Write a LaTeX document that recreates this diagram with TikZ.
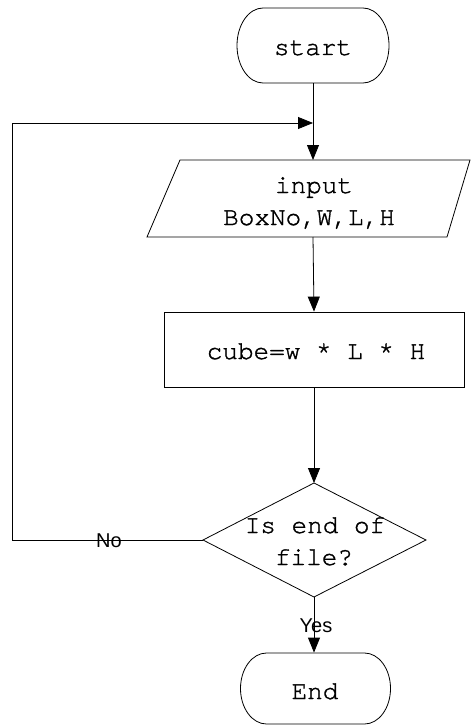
\documentclass[tikz,border=0pt]{standalone}
\usepackage{fontspec}
\setmonofont[Ligatures=NoCommon, FakeBold=1.2]{TeX Gyre Cursor}
\setsansfont{Liberation Sans}
\usetikzlibrary{arrows.meta}
\tikzset{
  code/.style={font=\ttfamily\fontsize{26}{29}\selectfont, inner sep=0pt, anchor=base},
  lbl/.style={font=\sffamily\fontsize{20}{22}\selectfont, inner sep=0pt, anchor=base},
  flow/.style={-{Triangle[length=15pt,width=12pt]}},
  holder/.style={rectangle, inner sep=0pt, minimum width=152pt, minimum height=#1},
  holder/.default=75pt,
  outline/.style={draw, line join=miter},
}
% stadium outline round a named holder node: half-straight part, cap radius, half height
\newcommand\stadium[4]{%
  \draw (#1) ++(-#2,-#4) -- ++(2*#2,0)
    arc[start angle=-90, end angle=90, x radius=#3, y radius=#4]
    -- ++(-2*#2,0)
    arc[start angle=90, end angle=270, x radius=#3, y radius=#4] -- cycle;}
\begin{document}
\begin{tikzpicture}[x=1pt, y=-1pt, line width=0.8pt]
  \useasboundingbox (0,0) rectangle (471,725);

  % start terminal
  \node[holder] (start) at (313,45.5) {};
  \stadium{start.center}{50}{26}{37.5}
  \node[code] (starttxt) at (313,55) {start};

  % input parallelogram
  \coordinate (inTL) at (180,160);
  \coordinate (inTR) at (470,160);
  \coordinate (inBR) at (447,237);
  \coordinate (inBL) at (147,237);
  \draw[outline] (inTL) -- (inTR) -- (inBR) -- (inBL) -- cycle;
  \coordinate (intop) at (313,160);
  \coordinate (inbot) at (313,237);
  \node[code] (in1) at (314,193) {input};
  \node[code] (in2) at (309,225) {BoxNo,W,L,H};

  % process box
  \node[draw, rectangle, inner sep=0pt, minimum width=300pt, minimum height=75pt]
    (calc) at (314,349.5) {};
  \node[code] (calctxt) at (316,359) {cube=w * L * H};

  % decision diamond
  \coordinate (dtop) at (314,483);
  \coordinate (dright) at (426,540);
  \coordinate (dbot) at (314,597);
  \coordinate (dleft) at (203,540);
  \draw[outline] (dtop) -- (dright) -- (dbot) -- (dleft) -- cycle;
  \node[code] (d1) at (315,533) {Is end of};
  \node[code] (d2) at (314,565) {file?};

  % end terminal
  \node[holder=71pt] (end) at (315.5,688.5) {};
  \stadium{end.center}{49}{26}{35.5}
  \node[code] (endtxt) at (315,699) {End};

  % loop corners
  \coordinate (loopA) at (12,540);
  \coordinate (loopB) at (12,123);
  \coordinate (join) at (313,123);

  % connectors
  \draw[flow] (start.south) -- (intop);
  \draw[flow] (inbot) -- (calc.north);
  \draw[flow] (calc.south) -- (dtop);
  \draw[flow] (dbot) -- (dbot |- end.north);
  \draw[flow] (dleft) -- (loopA) -- (loopB) -- (join);

  % branch labels
  \node[lbl] (no) at (109,547) {No};
  \node[lbl] (yes) at (316,632) {Yes};
\end{tikzpicture}
\end{document}
